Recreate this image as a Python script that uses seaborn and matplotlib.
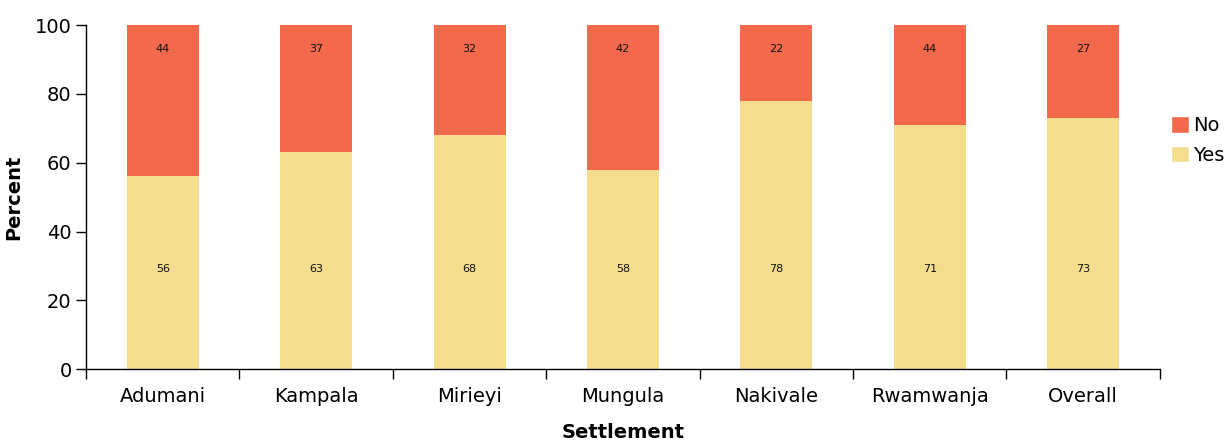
import numpy as np
import pandas as pd
import matplotlib
matplotlib.use("Agg")
import matplotlib.pyplot as plt
from matplotlib.patches import Patch
import seaborn as sns

settlements = ["Adumani", "Kampala", "Mirieyi", "Mungula", "Nakivale", "Rwamwanja", "Overall"]
yes_pct = [56, 63, 68, 58, 78, 71, 73]
no_bar = [44, 37, 32, 42, 22, 29, 27]          # drawn height of "No" segment
no_labels = [44, 37, 32, 42, 22, 44, 27]       # printed label (as in the source)

YES_COLOR = "#F4DE8E"
NO_COLOR = "#F2694B"

df = pd.DataFrame({"Settlement": settlements, "Yes": yes_pct, "No": no_bar})
df["Total"] = df["Yes"] + df["No"]

sns.set_style("white")
plt.rcParams["font.family"] = ["DejaVu Sans"]
plt.rcParams["text.color"] = "black"
plt.rcParams["axes.labelcolor"] = "black"
plt.rcParams["xtick.color"] = "black"
plt.rcParams["ytick.color"] = "black"

fig = plt.figure(figsize=(12.3, 4.48), dpi=100)
ax = fig.add_axes([0.070, 0.176, 0.873, 0.768])

sns.barplot(data=df, x="Settlement", y="Total", color=NO_COLOR, width=0.47,
            saturation=1, linewidth=0, ax=ax)
sns.barplot(data=df, x="Settlement", y="Yes", color=YES_COLOR, width=0.47,
            saturation=1, linewidth=0, ax=ax)

for i in range(len(settlements)):
    ax.text(i, 29, str(yes_pct[i]), ha="center", va="center", fontsize=8, color="#111111")
    ax.text(i, 93, str(no_labels[i]), ha="center", va="center", fontsize=8, color="#111111")

ax.set_ylim(0, 100)
ax.set_xlim(-0.5, len(settlements) - 0.5)
ax.set_yticks(range(0, 101, 20))
ax.tick_params(axis="y", length=7, width=1, direction="out", labelsize=14, left=True)
ax.tick_params(axis="x", which="major", length=0, labelsize=14, pad=13)
ax.set_xticks(np.arange(-0.5, len(settlements), 1), minor=True)
ax.tick_params(axis="x", which="minor", length=7, width=1, direction="out", bottom=True)

for s in ["top", "right"]:
    ax.spines[s].set_visible(False)
for s in ["left", "bottom"]:
    ax.spines[s].set_color("black")
    ax.spines[s].set_linewidth(1)

ax.set_ylabel("Percent", fontsize=14, fontweight="bold", labelpad=8)
ax.set_xlabel("Settlement", fontsize=14, fontweight="bold", labelpad=12)

handles = [Patch(facecolor=NO_COLOR, label="No"), Patch(facecolor=YES_COLOR, label="Yes")]
ax.legend(handles=handles, loc="center left", bbox_to_anchor=(1.0, 0.665), frameon=False,
          fontsize=14, handlelength=0.95, handleheight=0.95, handletextpad=0.2,
          labelspacing=0.55, borderaxespad=0.15)

fig.savefig("out.png", dpi=100)
